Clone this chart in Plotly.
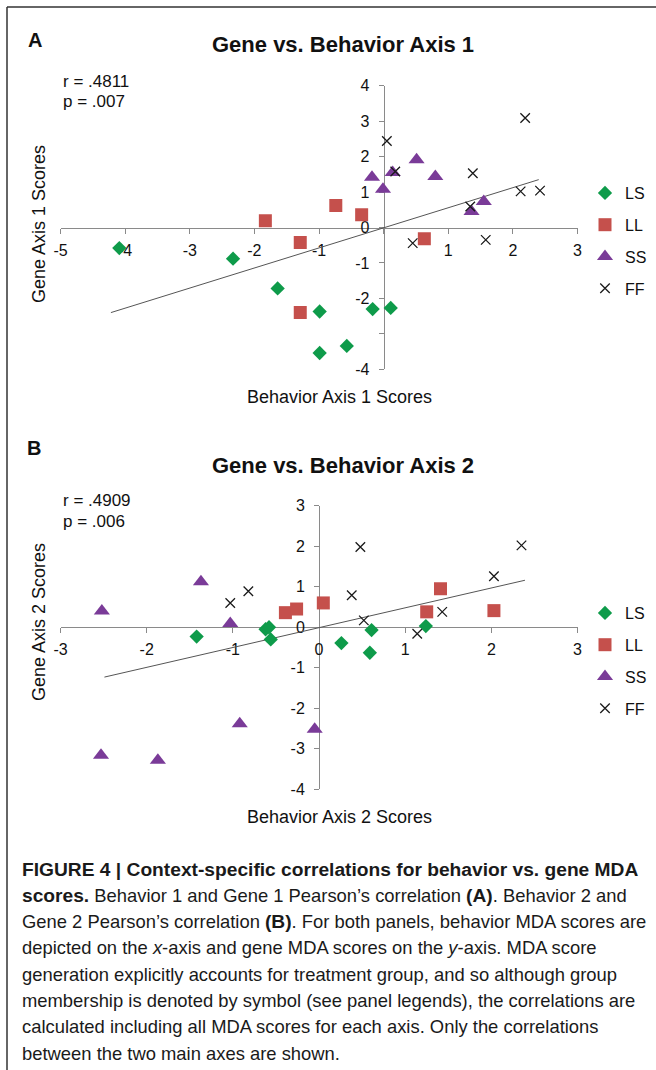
import plotly.graph_objects as go

W, H = 656, 1070

groups = ["LS", "LL", "SS", "FF"]

# ---------------- Panel A data (Behavior Axis 1 vs Gene Axis 1) ----------------
a_ls_x = [-4.09, -2.33, -1.64, -0.99, -0.99, -0.57, -0.17, 0.11]
a_ls_y = [-0.58, -0.88, -1.72, -2.37, -3.54, -3.34, -2.30, -2.27]
a_ll_x = [-1.83, -1.29, -0.74, -0.34, -1.29, 0.63]
a_ll_y = [0.19, -0.42, 0.62, 0.36, -2.40, -0.32]
a_ss_x = [-0.18, -0.01, 0.14, 0.51, 0.80, 1.36, 1.55]
a_ss_y = [1.42, 1.08, 1.55, 1.91, 1.44, 0.45, 0.73]
a_ff_x = [0.05, 0.18, 0.45, 1.38, 1.34, 1.58, 2.19, 2.12, 2.42]
a_ff_y = [2.44, 1.58, -0.44, 1.53, 0.59, -0.35, 3.09, 1.02, 1.04]
a_trend_x = [-4.22, 2.40]
a_trend_y = [-2.40, 1.35]
a_xrange = [-5, 3]
a_yrange = [-4, 4]
a_xticks = [-5, -4, -3, -2, -1, 0, 1, 2, 3]
a_xticktext = ["-5", "-4", "-3", "-2", "-1", "", "1", "2", "3"]
a_yticks = [-4, -3, -2, -1, 0, 1, 2, 3, 4]
a_yticktext = ["-4", "", "-2", "-1", "0", "1", "2", "3", "4"]
a_title = "Gene vs. Behavior Axis 1"
a_xtitle = "Behavior Axis 1 Scores"
a_ytitle = "Gene Axis 1 Scores"
a_stats = ["r = .4811", "p = .007"]

# ---------------- Panel B data (Behavior Axis 2 vs Gene Axis 2) ----------------
b_ls_x = [-1.42, -0.62, -0.58, -0.56, 0.26, 0.61, 0.59, 1.24]
b_ls_y = [-0.23, -0.05, 0.00, -0.30, -0.39, -0.07, -0.63, 0.03]
b_ll_x = [-0.39, -0.26, 0.05, 1.41, 1.25, 2.03]
b_ll_y = [0.36, 0.45, 0.60, 0.95, 0.38, 0.41]
b_ss_x = [-2.52, -1.37, -1.03, -2.53, -1.87, -0.92, -0.05]
b_ss_y = [0.40, 1.12, 0.09, -3.16, -3.28, -2.38, -2.52]
b_ff_x = [-1.03, -0.82, 0.48, 0.38, 0.52, 1.14, 1.43, 2.03, 2.35]
b_ff_y = [0.60, 0.89, 1.98, 0.79, 0.17, -0.16, 0.38, 1.26, 2.02]
b_trend_x = [-2.49, 2.39]
b_trend_y = [-1.23, 1.16]
b_xrange = [-3, 3]
b_yrange = [-4, 3]
b_xticks = [-3, -2, -1, 0, 1, 2, 3]
b_xticktext = ["-3", "-2", "-1", "0", "1", "2", "3"]
b_yticks = [-4, -3, -2, -1, 0, 1, 2, 3]
b_yticktext = ["-4", "-3", "-2", "-1", "0", "1", "2", "3"]
b_title = "Gene vs. Behavior Axis 2"
b_xtitle = "Behavior Axis 2 Scores"
b_ytitle = "Gene Axis 2 Scores"
b_stats = ["r = .4909", "p = .006"]

BOLD = '<b><span style="font-size:19.2px">{}</span></b>'
caption_lines = [
    BOLD.format("FIGURE 4 | Context-specific correlations for behavior vs. gene MDA"),
    BOLD.format("scores.") + " Behavior 1 and Gene 1 Pearson\u2019s correlation " + BOLD.format("(A)") + ". Behavior 2 and",
    "Gene 2 Pearson\u2019s correlation " + BOLD.format("(B)") + ". For both panels, behavior MDA scores are",
    "depicted on the <i>x</i>-axis and gene MDA scores on the <i>y</i>-axis. MDA score",
    "generation explicitly accounts for treatment group, and so although group",
    "membership is denoted by symbol (see panel legends), the correlations are",
    "calculated including all MDA scores for each axis. Only the correlations",
    "between the two main axes are shown.",
]

# ---------------- styles ----------------
FONT = "Liberation Sans, Arial, Helvetica, sans-serif"
styles = {
    "LS": dict(symbol="diamond", size=11, color="#0E9B4A", line=dict(width=0)),
    "LL": dict(symbol="square", size=13, color="#C5504C", line=dict(width=0)),
    "SS": dict(symbol="triangle-up", size=14, color="#7A3B98", line=dict(width=0)),
    "FF": dict(symbol="x-thin", size=9.5, color="#1a1a1a", line=dict(width=1.3, color="#1a1a1a")),
}

def px2paper_x(px):
    return px / W

def px2paper_y(py):
    return 1 - py / H

x_dom = [px2paper_x(60.5), px2paper_x(577.5)]
a_ydom = [px2paper_y(369.3), px2paper_y(85.7)]
b_ydom = [px2paper_y(789.3), px2paper_y(505.7)]

def zero_pos(dom, rng):
    return dom[0] + (0 - rng[0]) / (rng[1] - rng[0]) * (dom[1] - dom[0])

fig = go.Figure()

panels = [
    ("x", "y", "legend", "a",
     {"LS": (a_ls_x, a_ls_y), "LL": (a_ll_x, a_ll_y), "SS": (a_ss_x, a_ss_y), "FF": (a_ff_x, a_ff_y)},
     (a_trend_x, a_trend_y)),
    ("x2", "y2", "legend2", "b",
     {"LS": (b_ls_x, b_ls_y), "LL": (b_ll_x, b_ll_y), "SS": (b_ss_x, b_ss_y), "FF": (b_ff_x, b_ff_y)},
     (b_trend_x, b_trend_y)),
]

for xa, ya, leg, tag, data, trend in panels:
    fig.add_trace(go.Scatter(x=trend[0], y=trend[1], mode="lines",
                             line=dict(color="#555555", width=1),
                             xaxis=xa, yaxis=ya, showlegend=False, hoverinfo="skip"))
    for g in groups:
        st = styles[g]
        fig.add_trace(go.Scatter(
            x=data[g][0], y=data[g][1], mode="markers", name=g,
            marker=dict(symbol=st["symbol"], size=st["size"], color=st["color"], line=st["line"]),
            xaxis=xa, yaxis=ya, legend=leg, legendgroup=tag + g,
        ))

ax_common = dict(showgrid=False, zeroline=False, showline=True, linecolor="#8a8a8a",
                 linewidth=1, ticks="outside", ticklen=5, tickcolor="#8a8a8a", tickwidth=1,
                 tickfont=dict(size=16, color="#111111", family=FONT), automargin=False,
                 fixedrange=True, tickmode="array", layer="below traces")

fig.update_layout(
    width=W, height=H, margin=dict(l=0, r=0, t=0, b=0),
    paper_bgcolor="white", plot_bgcolor="rgba(0,0,0,0)",
    font=dict(family=FONT, size=16, color="#111111"),
    xaxis=dict(ax_common, domain=x_dom, range=a_xrange, anchor="free",
               position=zero_pos(a_ydom, a_yrange), tickvals=a_xticks, ticktext=a_xticktext,
               ticklabelstandoff=3),
    yaxis=dict(ax_common, domain=a_ydom, range=a_yrange, anchor="free",
               position=zero_pos(x_dom, a_xrange), tickvals=a_yticks, ticktext=a_yticktext,
               ticklabelstandoff=6),
    xaxis2=dict(ax_common, domain=x_dom, range=b_xrange, anchor="free",
                position=zero_pos(b_ydom, b_yrange), tickvals=b_xticks, ticktext=b_xticktext,
                ticklabelstandoff=3),
    yaxis2=dict(ax_common, domain=b_ydom, range=b_yrange, anchor="free",
                position=zero_pos(x_dom, b_xrange), tickvals=b_yticks, ticktext=b_yticktext,
                ticklabelstandoff=6),
    legend=dict(x=px2paper_x(585), xanchor="left", y=px2paper_y(176), yanchor="top",
                traceorder="grouped", tracegroupgap=8, font=dict(size=16, family=FONT),
                bgcolor="rgba(0,0,0,0)", itemsizing="trace"),
    legend2=dict(x=px2paper_x(585), xanchor="left", y=px2paper_y(596), yanchor="top",
                 traceorder="grouped", tracegroupgap=8, font=dict(size=16, family=FONT),
                 bgcolor="rgba(0,0,0,0)", itemsizing="trace"),
    showlegend=True,
)

def ann(text, x, y, size, xanchor="center", yanchor="middle", angle=0, color="#111111"):
    fig.add_annotation(text=text, x=px2paper_x(x), y=px2paper_y(y), xref="paper", yref="paper",
                       xanchor=xanchor, yanchor=yanchor, showarrow=False, textangle=angle,
                       font=dict(size=size, family=FONT, color=color))

# Panel A texts
ann("<b>A</b>", 35, 39.5, 20)
ann("<b>" + a_title + "</b>", 343, 45, 22)
ann(a_stats[0], 61, 81, 17, xanchor="left")
ann(a_stats[1], 61, 101.5, 17, xanchor="left")
ann(a_xtitle, 339, 397, 18)
ann(a_ytitle, 39, 224, 18, angle=-90)

# Panel B texts
ann("<b>B</b>", 34, 447.5, 20)
ann("<b>" + b_title + "</b>", 343, 465, 22)
ann(b_stats[0], 61, 500, 17, xanchor="left")
ann(b_stats[1], 61, 521, 17, xanchor="left")
ann(b_xtitle, 339, 817, 18)
ann(b_ytitle, 39, 622, 18, angle=-90)

# Caption
cap_y0, cap_dy = 869, 26.3
for i, line in enumerate(caption_lines):
    ann(line, 20, cap_y0 + i * cap_dy, 18.4, xanchor="left", color="#1a1a1a")

# Frame lines (top and left)
fig.add_shape(type="line", xref="paper", yref="paper", x0=px2paper_x(7), x1=1,
              y0=px2paper_y(7), y1=px2paper_y(7), line=dict(color="#333333", width=1.5))
fig.add_shape(type="line", xref="paper", yref="paper", x0=px2paper_x(7), x1=px2paper_x(7),
              y0=px2paper_y(7), y1=0, line=dict(color="#333333", width=1.5))

fig.write_html("out.html", config={"displayModeBar": False},
               post_script="document.body.style.margin='0';document.body.style.overflow='hidden';")
